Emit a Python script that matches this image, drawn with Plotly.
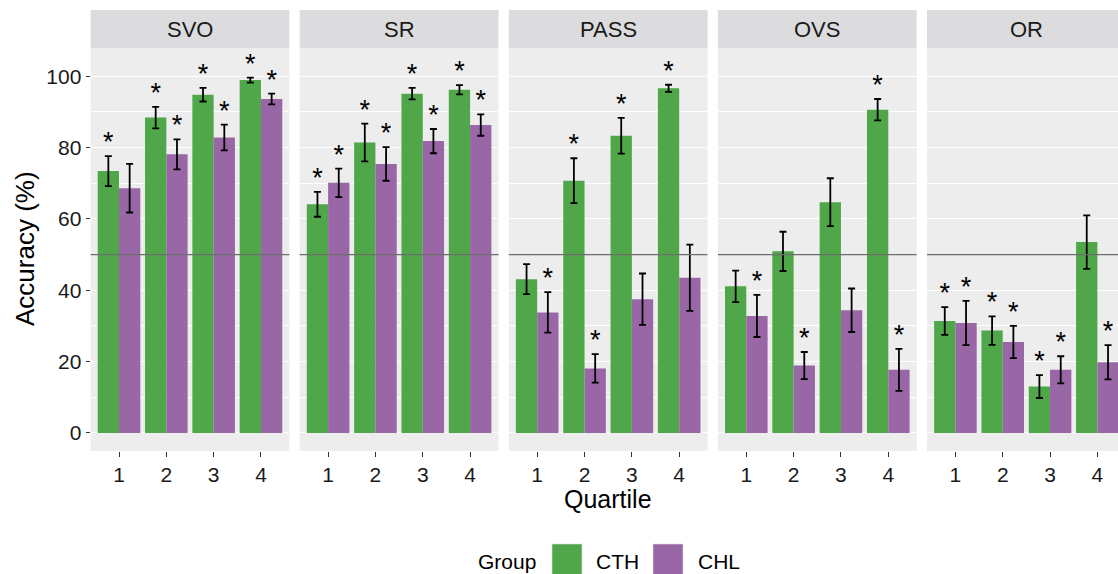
import plotly.graph_objects as go

# ---------------- data ----------------
panels = ["SVO", "SR", "PASS", "OVS", "OR"]
quartiles = [1, 2, 3, 4]
quartile_labels = ["1", "2", "3", "4"]
group_names = ["CTH", "CHL"]

cth_mean = [
    [73.4, 88.4, 94.8, 98.9],   # SVO
    [64.1, 81.4, 95.1, 96.2],   # SR
    [43.1, 70.7, 83.3, 96.6],   # PASS
    [41.1, 50.9, 64.7, 90.6],   # OVS
    [31.4, 28.7, 13.0, 53.5],   # OR
]
cth_err = [
    [4.2, 3.0, 1.9, 0.7],
    [3.5, 5.3, 1.6, 1.3],
    [4.2, 6.3, 5.0, 1.0],
    [4.4, 5.5, 6.7, 3.0],
    [3.9, 4.0, 3.2, 7.5],
]
chl_mean = [
    [68.6, 78.1, 82.8, 93.6],
    [70.1, 75.4, 81.8, 86.3],
    [33.8, 18.1, 37.5, 43.5],
    [32.8, 18.9, 34.4, 17.7],
    [30.8, 25.5, 17.7, 19.8],
]
chl_err = [
    [6.8, 4.2, 3.6, 1.5],
    [4.0, 4.7, 3.4, 3.0],
    [5.7, 4.0, 7.2, 9.3],
    [5.9, 3.8, 6.1, 5.9],
    [6.2, 4.5, 3.8, 4.8],
]
cth_sig = [
    [1, 1, 1, 1],
    [1, 1, 1, 1],
    [0, 1, 1, 1],
    [0, 0, 0, 1],
    [1, 1, 1, 0],
]
chl_sig = [
    [0, 1, 1, 1],
    [1, 1, 1, 1],
    [1, 1, 0, 0],
    [1, 1, 0, 1],
    [1, 1, 1, 1],
]
chance_level = 50

# ---------------- style ----------------
W, H = 1118, 574
GREEN = "#4FA74A"
PURPLE = "#9966A6"
PANEL_BG = "#EDEDED"
STRIP_BG = "#DCDCDE"
FONT = "Liberation Sans, Arial, sans-serif"
TXT = "#1a1a1a"

unit = 47.33                      # px per x unit
panel_w = 4.2 * unit
panel_starts = [90.6, 299.7, 508.8, 717.9, 927.0]
panel_top, panel_bot = 48.0, 451.0
strip_top = 10.0
y_range = [-5.05, 107.9]
bar_half = 0.225
star_off = 3.3


def fx(p):
    return p / W


def fy(p):
    return 1 - p / H


fig = go.Figure()
layout = dict(
    width=W, height=H,
    margin=dict(l=0, r=0, t=0, b=0),
    paper_bgcolor="white", plot_bgcolor=PANEL_BG,
    barmode="group", bargap=0.1, bargroupgap=0,
    showlegend=False,
    font=dict(family=FONT, color=TXT),
)
shapes = []
annotations = []

for i, name in enumerate(panels):
    sfx = "" if i == 0 else str(i + 1)
    xa, ya = "x" + sfx, "y" + sfx
    x0 = panel_starts[i]
    x1 = min(x0 + panel_w, W)
    xmax = 0.4 + (x1 - x0) / unit

    layout["xaxis" + sfx] = dict(
        domain=[fx(x0), fx(x1)], range=[0.4, xmax], anchor=ya,
        tickvals=quartiles, ticktext=quartile_labels,
        ticks="outside", ticklen=5, tickwidth=1.1, tickcolor="#333333",
        showgrid=False, zeroline=False, showline=False, automargin=False,
        tickfont=dict(size=21, color=TXT, family=FONT),
        fixedrange=True,
    )
    layout["yaxis" + sfx] = dict(
        domain=[fy(panel_bot), fy(panel_top)], range=y_range, anchor=xa,
        tickvals=[0, 20, 40, 60, 80, 100],
        ticks="outside" if i == 0 else "", ticklen=4, tickwidth=1.1,
        tickcolor="#333333",
        showticklabels=(i == 0),
        gridcolor="white", gridwidth=1.3, zeroline=False, showline=False,
        automargin=False,
        minor=dict(tickvals=[10, 30, 50, 70, 90], showgrid=True,
                   gridcolor="white", gridwidth=0.6, ticks=""),
        tickfont=dict(size=21, color=TXT, family=FONT),
        fixedrange=True,
    )

    for means, errs, sig, col, off in (
        (cth_mean[i], cth_err[i], cth_sig[i], GREEN, -bar_half),
        (chl_mean[i], chl_err[i], chl_sig[i], PURPLE, bar_half),
    ):
        fig.add_trace(go.Bar(
            x=quartiles, y=means, xaxis=xa, yaxis=ya,
            marker=dict(color=col, line=dict(width=0)),
            error_y=dict(type="data", array=errs, visible=True,
                         color="black", thickness=1.8, width=3.5),
            offsetgroup=col,
        ))
        sx = [q + off for q, s in zip(quartiles, sig) if s]
        sy = [m + e + star_off for m, e, s in zip(means, errs, sig) if s]
        fig.add_trace(go.Scatter(
            x=sx, y=sy, xaxis=xa, yaxis=ya, mode="text",
            text=["*"] * len(sx), textposition="middle center",
            textfont=dict(size=27, color="black", family=FONT),
            cliponaxis=False, hoverinfo="skip",
        ))

    # chance line
    shapes.append(dict(type="line", xref=xa + " domain", yref=ya,
                       x0=0, x1=1, y0=chance_level, y1=chance_level,
                       line=dict(color="#6E6E6E", width=1.3), layer="above"))
    # strip
    shapes.append(dict(type="rect", xref="paper", yref="paper",
                       x0=fx(x0), x1=fx(x0 + panel_w),
                       y0=fy(panel_top), y1=fy(strip_top),
                       fillcolor=STRIP_BG, line=dict(width=0), layer="below"))
    annotations.append(dict(text=name, xref="paper", yref="paper",
                            x=fx(x0 + panel_w / 2), y=fy(29.5),
                            xanchor="center", yanchor="middle", showarrow=False,
                            font=dict(size=22, color=TXT, family=FONT)))

# axis titles
annotations.append(dict(text="Accuracy (%)", xref="paper", yref="paper",
                        x=fx(25), y=fy(249), textangle=-90,
                        xanchor="center", yanchor="middle", showarrow=False,
                        font=dict(size=26, color="black", family=FONT)))
annotations.append(dict(text="Quartile", xref="paper", yref="paper",
                        x=fx(608), y=fy(499),
                        xanchor="center", yanchor="middle", showarrow=False,
                        font=dict(size=25, color="black", family=FONT)))

# legend (bottom, horizontal)
annotations.append(dict(text="Group", xref="paper", yref="paper",
                        x=fx(476), y=fy(561), xanchor="left", yanchor="middle",
                        showarrow=False,
                        font=dict(size=21, color="black", family=FONT)))
for gname, col, kx, tx in ((group_names[0], GREEN, 552, 594),
                           (group_names[1], PURPLE, 653, 696)):
    shapes.append(dict(type="rect", xref="paper", yref="paper",
                       x0=fx(kx), x1=fx(kx + 30), y0=fy(576), y1=fy(544),
                       fillcolor=col, line=dict(color="#DDDDDD", width=0.6)))
    annotations.append(dict(text=gname, xref="paper", yref="paper",
                            x=fx(tx), y=fy(561), xanchor="left", yanchor="middle",
                            showarrow=False,
                            font=dict(size=21, color="black", family=FONT)))

layout["shapes"] = shapes
layout["annotations"] = annotations
fig.update_layout(**layout)

fig.write_html(
    "out.html",
    config={"displayModeBar": False},
    post_script="document.body.style.margin='0';document.body.style.overflow='hidden';",
)
